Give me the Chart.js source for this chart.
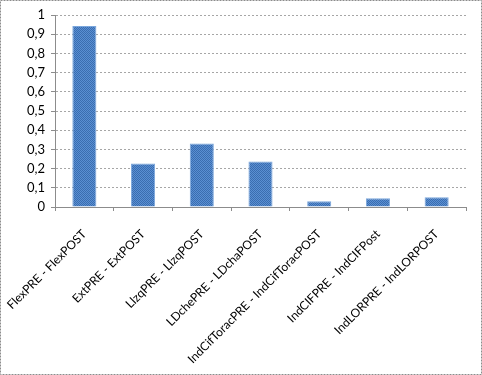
<!DOCTYPE html>
<html>
<head>
<meta charset="utf-8">
<script src="https://cdn.jsdelivr.net/npm/chart.js@4"></script>
<style>
  html, body { margin: 0; padding: 0; background: #fff; }
  #wrap { width: 482px; height: 375px; }
</style>
</head>
<body>
<div id="wrap"><canvas id="chart__1" width="482" height="375"></canvas></div>
<script>
"use strict";

const categories = [
  "FlexPRE - FlexPOST",
  "ExtPRE - ExtPOST",
  "LlzqPRE - LlzqPOST",
  "LDchePRE - LDchaPOST",
  "IndCifToracPRE - IndCifToracPOST",
  "IndCIFPRE - IndCIFPost",
  "IndLORPRE - IndLORPOST",
];
const values = [0.943, 0.227, 0.331, 0.237, 0.030, 0.045, 0.051];

// fine checker pattern like the Excel fill
function makePattern() {
  const c = document.createElement("canvas");
  c.width = 2;
  c.height = 2;
  const g = c.getContext("2d");
  g.fillStyle = "#5a8fd2";
  g.fillRect(0, 0, 2, 2);
  g.fillStyle = "#3a6db0";
  g.fillRect(0, 0, 1, 1);
  g.fillRect(1, 1, 1, 1);
  return g.createPattern(c, "repeat");
}

const pageBorder = {
  id: "pageBorder",
  afterDraw(chart) {
    const ctx = chart.ctx;
    ctx.save();
    ctx.strokeStyle = "#8c8c8c";
    ctx.lineWidth = 1;
    ctx.setLineDash([2, 1]);
    ctx.strokeRect(0.5, 0.5, chart.width - 1, chart.height - 1);
    ctx.restore();
  },
};

const chartSelector__1 = document.getElementById("chart__1").getContext("2d");

const chartConfig = {
  type: "bar",
  data: {
    labels: categories,
    datasets: [
      {
        data: values,
        backgroundColor: makePattern(),
        borderColor: "#7aa6dc",
        borderWidth: 1,
        categoryPercentage: 1,
        barPercentage: 0.41,
      },
    ],
  },
  options: {
    responsive: false,
    animation: false,
    layout: { padding: { left: 0, top: 15, right: 16, bottom: 0 } },
    plugins: {
      legend: { display: false },
      tooltip: { enabled: false },
    },
    scales: {
      x: {
        offset: true,
        grid: {
          offset: true,
          drawOnChartArea: false,
          drawTicks: true,
          tickLength: 4,
          color: "#8c8c8c",
        },
        border: { display: true, color: "#8c8c8c", width: 1 },
        ticks: {
          minRotation: 45,
          maxRotation: 45,
          padding: 16,
          color: "#000",
          font: { family: "Lato", size: 12 },
          autoSkip: false,
        },
        afterFit(scale) {
          scale.height = 168;
          scale.paddingLeft = 0;
          scale.paddingRight = 0;
        },
      },
      y: {
        min: 0,
        max: 1,
        grid: {
          color: "#a6a6a6",
          lineWidth: 1,
          tickLength: 4,
          tickColor: "#8c8c8c",
        },
        border: { display: true, color: "#8c8c8c", width: 1, dash: [2, 2] },
        ticks: {
          stepSize: 0.1,
          padding: 6,
          color: "#000",
          font: { family: "Lato", size: 13 },
          callback: (v) => {
            const r = Math.round(v * 10) / 10;
            if (r === 0) return "0";
            if (r === 1) return "1";
            return r.toFixed(1).replace(".", ",");
          },
        },
        afterFit(scale) {
          scale.width = 55;
        },
      },
    },
  },
  plugins: [pageBorder],
};

const chart__1 = new Chart(chartSelector__1, chartConfig);
</script>
</body>
</html>
